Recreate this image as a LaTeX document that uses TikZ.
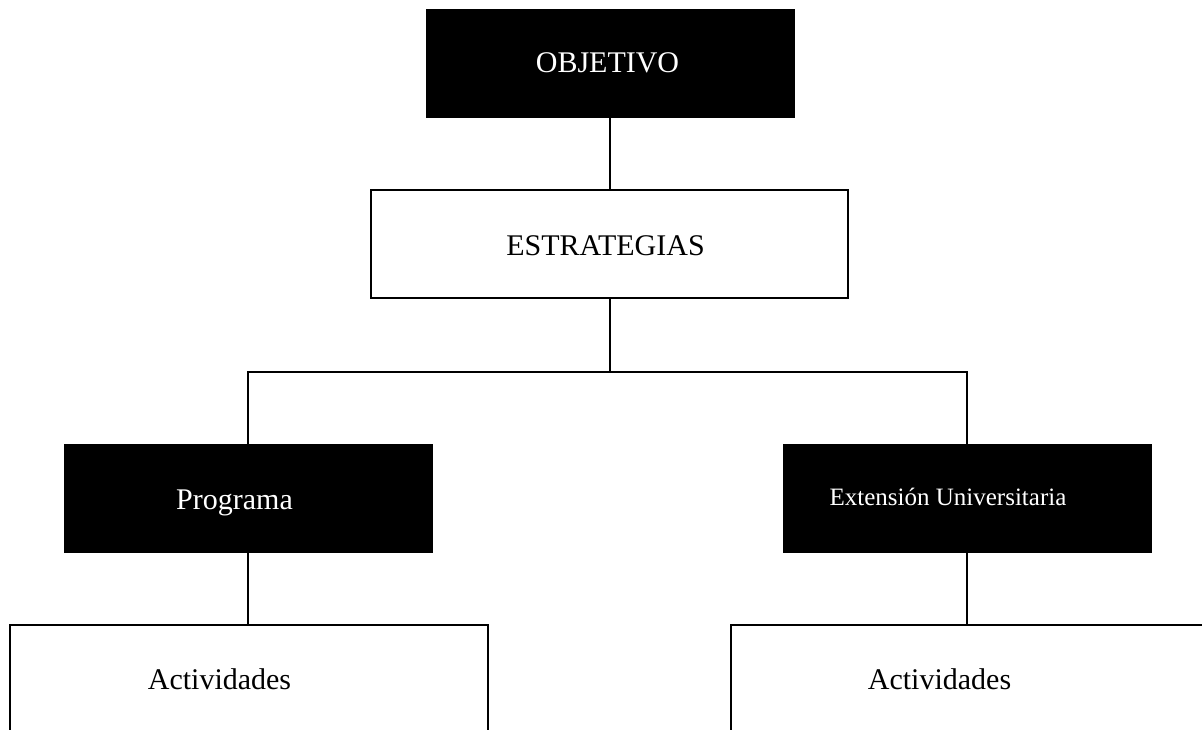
\documentclass[tikz,border=0pt]{standalone}
\usepackage{fontspec}
\setmainfont{Liberation Serif}
\usetikzlibrary{calc}

\tikzset{
  darkbox/.style={draw=black, fill=black, minimum width=368pt, minimum height=108pt, inner sep=0pt},
  lightbox/.style={draw=black, line width=2pt, fill=white, minimum height=108pt, inner sep=0pt},
  boxtext/.style={anchor=base, inner sep=0pt, font=\fontsize{30}{36}\selectfont},
  link/.style={line width=2pt}
}

\begin{document}
\begin{tikzpicture}[x=1pt, y=-1pt]
\useasboundingbox (0,0) rectangle (1202,730);
\clip (0,0) rectangle (1202,730);
% boxes
\node[darkbox] (obj) at (610,63) {};
\node[lightbox, minimum width=477pt] (est) at (609.5,244) {};
\node[darkbox] (prog) at (248,498) {};
\node[darkbox] (ext) at (967,498) {};
\node[lightbox, minimum width=478pt] (act1) at (249,679) {};
\node[lightbox, minimum width=478pt] (act2) at (970,679) {};
% texts
\node[boxtext, white] (tobj) at (607.5,73) {OBJETIVO};
\node[boxtext] (test) at (605.5,255) {ESTRATEGIAS};
\node[boxtext, white] (tprog) at (234.5,509) {Programa};
\node[boxtext, white, font=\fontsize{25}{30}\selectfont] (text) at (948,505) {Extensión Universitaria};
\node[boxtext] (tact1) at (219.5,689) {Actividades};
\node[boxtext] (tact2) at (939.5,689) {Actividades};
% connectors
\coordinate (split) at (610,372);
\draw[link] (obj.south) -- (obj.south |- est.north);
\draw[link] (est.south -| split) -- (split);
\draw[link] (prog.north) |- (split) -| (ext.north);
\draw[link] (prog.south) -- (prog.south |- act1.north);
\draw[link] (ext.south) -- (ext.south |- act2.north);
\end{tikzpicture}
\end{document}
